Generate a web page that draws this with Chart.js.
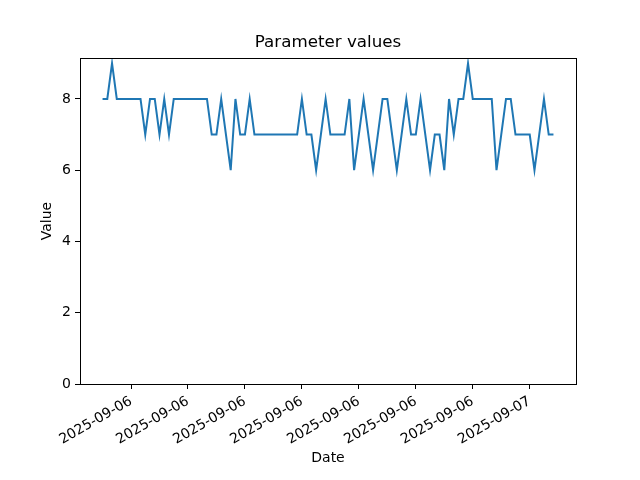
<!DOCTYPE html>
<html>
<head>
<meta charset="utf-8">
<title>Parameter values</title>
<script src="https://cdn.jsdelivr.net/npm/chart.js@4.4.1/dist/chart.umd.min.js"></script>
<style>
    html, body { margin: 0; padding: 0; background: #ffffff; }
    #chart { display: block; }
</style>
</head>
<body>
<canvas id="chart" width="640" height="480"></canvas>
<script>
// Sample times (15 min apart)
const timestamps = [
    '2025-09-06T01:30', '2025-09-06T01:45', '2025-09-06T02:00', '2025-09-06T02:15', '2025-09-06T02:30', '2025-09-06T02:45', '2025-09-06T03:00', '2025-09-06T03:15',
    '2025-09-06T03:30', '2025-09-06T03:45', '2025-09-06T04:00', '2025-09-06T04:15', '2025-09-06T04:30', '2025-09-06T04:45', '2025-09-06T05:00', '2025-09-06T05:15',
    '2025-09-06T05:30', '2025-09-06T05:45', '2025-09-06T06:00', '2025-09-06T06:15', '2025-09-06T06:30', '2025-09-06T06:45', '2025-09-06T07:00', '2025-09-06T07:15',
    '2025-09-06T07:30', '2025-09-06T07:45', '2025-09-06T08:00', '2025-09-06T08:15', '2025-09-06T08:30', '2025-09-06T08:45', '2025-09-06T09:00', '2025-09-06T09:15',
    '2025-09-06T09:30', '2025-09-06T09:45', '2025-09-06T10:00', '2025-09-06T10:15', '2025-09-06T10:30', '2025-09-06T10:45', '2025-09-06T11:00', '2025-09-06T11:15',
    '2025-09-06T11:30', '2025-09-06T11:45', '2025-09-06T12:00', '2025-09-06T12:15', '2025-09-06T12:30', '2025-09-06T12:45', '2025-09-06T13:00', '2025-09-06T13:15',
    '2025-09-06T13:30', '2025-09-06T13:45', '2025-09-06T14:00', '2025-09-06T14:15', '2025-09-06T14:30', '2025-09-06T14:45', '2025-09-06T15:00', '2025-09-06T15:15',
    '2025-09-06T15:30', '2025-09-06T15:45', '2025-09-06T16:00', '2025-09-06T16:15', '2025-09-06T16:30', '2025-09-06T16:45', '2025-09-06T17:00', '2025-09-06T17:15',
    '2025-09-06T17:30', '2025-09-06T17:45', '2025-09-06T18:00', '2025-09-06T18:15', '2025-09-06T18:30', '2025-09-06T18:45', '2025-09-06T19:00', '2025-09-06T19:15',
    '2025-09-06T19:30', '2025-09-06T19:45', '2025-09-06T20:00', '2025-09-06T20:15', '2025-09-06T20:30', '2025-09-06T20:45', '2025-09-06T21:00', '2025-09-06T21:15',
    '2025-09-06T21:30', '2025-09-06T21:45', '2025-09-06T22:00', '2025-09-06T22:15', '2025-09-06T22:30', '2025-09-06T22:45', '2025-09-06T23:00', '2025-09-06T23:15',
    '2025-09-06T23:30', '2025-09-06T23:45', '2025-09-07T00:00', '2025-09-07T00:15', '2025-09-07T00:30', '2025-09-07T00:45', '2025-09-07T01:00', '2025-09-07T01:15'
];

// Parameter value at each sample
const paramValues = [
    8, 8, 9, 8, 8, 8, 8, 8,
    8, 7, 8, 8, 7, 8, 7, 8,
    8, 8, 8, 8, 8, 8, 8, 7,
    7, 8, 7, 6, 8, 7, 7, 8,
    7, 7, 7, 7, 7, 7, 7, 7,
    7, 7, 8, 7, 7, 6, 7, 8,
    7, 7, 7, 7, 8, 6, 7, 8,
    7, 6, 7, 8, 8, 7, 6, 7,
    8, 7, 7, 8, 7, 6, 7, 7,
    6, 8, 7, 8, 8, 9, 8, 8,
    8, 8, 8, 6, 7, 8, 8, 7,
    7, 7, 7, 6, 7, 8, 7, 7
];

// Date ticks (every 3 hours from midnight 09-06)
const xTickTimes = [
    '2025-09-06T03:00', '2025-09-06T06:00', '2025-09-06T09:00', '2025-09-06T12:00',
    '2025-09-06T15:00', '2025-09-06T18:00', '2025-09-06T21:00', '2025-09-07T00:00'
];
const xTickLabels = [
    '2025-09-06', '2025-09-06', '2025-09-06', '2025-09-06',
    '2025-09-06', '2025-09-06', '2025-09-06', '2025-09-07'
];
const yTicks = [0, 2, 4, 6, 8];
const chartTitle = 'Parameter values';

// hours since 2025-09-06 00:00
const origin = Date.parse('2025-09-06T00:00');
const toHours = s => (Date.parse(s) - origin) / 3600000;

const xs = timestamps.map(toHours);
const points = xs.map((x, i) => ({ x: x, y: paramValues[i] }));
const tickHours = xTickTimes.map(toHours);

// matplotlib-style 5% margins
const xSpan = xs[xs.length - 1] - xs[0];
const xMin = xs[0] - 0.05 * xSpan;
const xMax = xs[xs.length - 1] + 0.05 * xSpan;
const yHi = Math.max(...paramValues);
const yLo = Math.min(...paramValues);
const yMax = yHi + 0.05 * (yHi - yLo);

Chart.defaults.font.family = "'DejaVu Sans', sans-serif";
Chart.defaults.color = '#000000';

// box around the plot + title centred over the plot area (like matplotlib)
const frame = {
    id: 'frame',
    afterDatasetsDraw(chart) {
        const { ctx, chartArea: a } = chart;
        ctx.save();
        ctx.strokeStyle = '#000000';
        ctx.lineWidth = 1;
        ctx.strokeRect(Math.round(a.left) + 0.5, Math.round(a.top) + 0.5,
            Math.round(a.right - a.left), Math.round(a.bottom - a.top));
        ctx.fillStyle = '#000000';
        ctx.font = "16.7px 'DejaVu Sans', sans-serif";
        ctx.textAlign = 'center';
        ctx.textBaseline = 'middle';
        ctx.fillText(chartTitle, (a.left + a.right) / 2, a.top - 15.5);
        ctx.restore();
    }
};

new Chart(document.getElementById('chart'), {
    type: 'line',
    data: {
        datasets: [{
            label: 'Value',
            data: points,
            borderColor: '#1f77b4',
            borderWidth: 2,
            pointRadius: 0,
            tension: 0,
            fill: false
        }]
    },
    options: {
        responsive: false,
        animation: false,
        layout: { padding: { left: 0, right: 64, top: 58, bottom: 0 } },
        plugins: {
            legend: { display: false },
            tooltip: { enabled: false },
            title: { display: false }
        },
        scales: {
            x: {
                type: 'linear',
                min: xMin,
                max: xMax,
                afterFit: s => { s.height = 96; },
                afterBuildTicks: s => { s.ticks = tickHours.map(v => ({ value: v })); },
                grid: { drawOnChartArea: false, drawTicks: true, tickLength: 5, color: '#000000' },
                border: { display: true, color: '#000000', width: 1 },
                ticks: {
                    autoSkip: false,
                    minRotation: 30,
                    maxRotation: 30,
                    padding: 4,
                    font: { size: 14 },
                    callback: (v, i) => xTickLabels[i]
                },
                title: { display: true, text: 'Date', font: { size: 14 }, padding: { top: 0, bottom: 13 } }
            },
            y: {
                min: 0,
                max: yMax,
                afterFit: s => { s.width = 80; },
                afterBuildTicks: s => { s.ticks = yTicks.map(v => ({ value: v })); },
                grid: { drawOnChartArea: false, drawTicks: true, tickLength: 5, color: '#000000' },
                border: { display: true, color: '#000000', width: 1 },
                ticks: { padding: 4, font: { size: 14 } },
                title: { display: true, text: 'Value', font: { size: 14 }, padding: { top: 39, bottom: 0 } }
            }
        }
    },
    plugins: [frame]
});
</script>
</body>
</html>
